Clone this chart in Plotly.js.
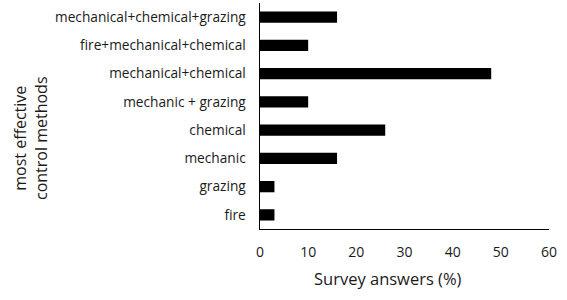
<!DOCTYPE html>
<html><head><meta charset="utf-8">
<script src="https://cdn.plot.ly/plotly-3.0.1.min.js"></script>
<style>body{margin:0;background:#fff}#chart{width:567px;height:300px}</style>
</head><body><div id="chart"></div>
<script>
var categories = ["fire","grazing","mechanic","chemical","mechanic + grazing","mechanical+chemical","fire+mechanical+chemical","mechanical+chemical+grazing"];
var values = [3,3,16,26,10,48,10,16];
var xTicks = [0,10,20,30,40,50,60];
var xTitle = "Survey answers (%)";
var yTitle = "most effective<br>control methods";

var font = {family:"Open Sans, sans-serif", size:13.7, color:"#1a1a1a"};
Plotly.newPlot("chart", [{
  type:"bar", orientation:"h", y:categories, x:values,
  marker:{color:"#000000"}, width:0.4, hoverinfo:"none"
}], {
  width:567, height:300,
  margin:{l:260, r:18, t:3, b:71},
  paper_bgcolor:"#fff", plot_bgcolor:"#fff",
  font:font, showlegend:false,
  xaxis:{range:[0,60], tickvals:xTicks, showgrid:false, zeroline:false,
    showline:true, linecolor:"#000", linewidth:1,
    ticks:"outside", ticklen:10, tickcolor:"rgba(0,0,0,0)", tickfont:{family:font.family, size:14, color:"#1a1a1a"}},
  yaxis:{showgrid:false, zeroline:false, showline:true, linecolor:"#000", linewidth:1.5,
    ticks:"outside", ticklen:10, tickcolor:"rgba(0,0,0,0)", tickfont:{family:font.family, size:13.7, color:"#1a1a1a"}},
  annotations:[
    {text:xTitle, xref:"paper", yref:"paper", x:(387.5-260)/289, y:-(278-229)/226, xanchor:"center", yanchor:"middle", showarrow:false, font:{family:font.family, size:16.5, color:"#1a1a1a"}},
    {text:yTitle, xref:"paper", yref:"paper", x:-(260-31)/289, y:(229-138)/226, xanchor:"center", yanchor:"middle", textangle:-90, showarrow:false, font:{family:font.family, size:16, color:"#1a1a1a"}}
  ]
}, {displayModeBar:false, staticPlot:true});
</script></body></html>
